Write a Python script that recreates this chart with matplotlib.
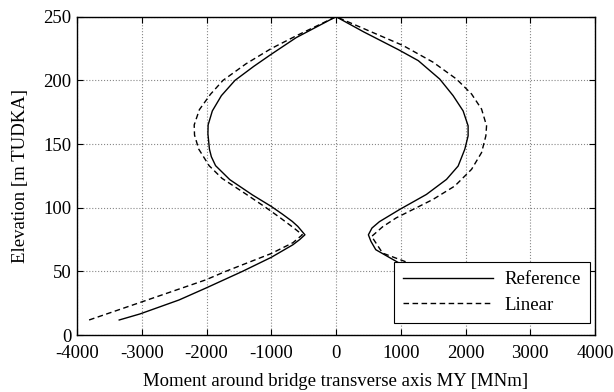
import numpy as np
import matplotlib.pyplot as plt

plt.rcParams['font.family'] = ['Liberation Serif', 'DejaVu Serif']
plt.rcParams['axes.unicode_minus'] = False

# Reference curve (bottom-left -> top -> bottom-right)
ref_y = [11.8, 16.5, 27.5, 36.8, 50, 61, 70.9, 75, 78.7, 85.3, 89.2, 95, 101, 110, 122,
         133, 140, 146, 158, 165, 176, 188, 200, 211, 220.5, 233.6, 250,
         238, 224.2, 215.5, 201, 188, 176, 164.3, 156.4, 145.9, 132.7, 122.2, 110.4,
         98.6, 89, 84, 78.7, 73.5, 67, 55,
         45, 35, 25, 12]
ref_x = [-3348, -3030, -2425, -2012, -1444, -1000, -665, -560, -480, -590, -675, -830, -1000, -1290, -1640,
         -1860, -1925, -1955, -1978, -1975, -1910, -1770, -1560, -1270, -1000, -614, 0,
         430, 960, 1270, 1602, 1808, 1963, 2040, 2040, 1989, 1886, 1706, 1396,
         983, 670, 555, 500, 540, 614, 1027,
         1500, 2000, 2500, 3300]

# Linear curve
lin_y = [11.8, 26, 43.3, 50, 64, 72.5, 78.7, 84, 92, 100, 111, 123, 133, 140.4, 146,
         157, 165, 177, 189, 200, 213, 225, 235, 250,
         227.4, 214.3, 201, 189.3, 177.4, 164.3, 156.4, 143.3, 130.1, 117, 106.5,
         98.6, 92, 85, 77.4, 64.3, 55,
         45, 35, 25, 12]
lin_x = [-3813, -3000, -2012, -1703, -1000, -665, -520, -650, -860, -1080, -1400, -1760, -1960, -2051, -2120,
         -2185, -2190, -2110, -1940, -1745, -1390, -1000, -614, 0,
         1034, 1498, 1861, 2093, 2248, 2325, 2314, 2248, 2093, 1834, 1498,
         1189, 930, 720, 550, 720, 1210,
         1800, 2500, 3100, 3800]

fig = plt.figure(figsize=(6.14, 3.92), dpi=100)
ax = fig.add_axes([0.1254, 0.1454, 0.8437, 0.8120])

ax.plot(ref_x, ref_y, 'k-', lw=1.0, label='Reference')
ax.plot(lin_x, lin_y, 'k--', lw=1.0, dashes=(4, 2.5), label='Linear')

ax.set_xlim(-4000, 4000)
ax.set_ylim(0, 250)
ax.set_xticks(np.arange(-4000, 4001, 1000))
ax.set_yticks(np.arange(0, 251, 50))
ax.grid(True, ls=':', color='#888888', lw=0.8)
ax.tick_params(direction='in', top=True, right=True, labelsize=13.5, length=4)
ax.tick_params(axis='x', pad=7)
ax.tick_params(axis='y', pad=4)
for s in ax.spines.values():
    s.set_linewidth(1.0)

ax.set_xlabel('Moment around bridge transverse axis MY [MNm]', fontsize=13.5, labelpad=8)
ax.set_ylabel('Elevation [m TUDKA]', fontsize=13.5, labelpad=10)

leg = ax.legend(loc='lower right', bbox_to_anchor=(0.991, 0.037), fontsize=13.5,
                fancybox=False, edgecolor='black', framealpha=1, handlelength=4.8,
                handletextpad=0.6, borderaxespad=0, labelspacing=0.45, borderpad=0.5)
leg.get_frame().set_linewidth(0.8)

plt.savefig('out.png', dpi=100)
